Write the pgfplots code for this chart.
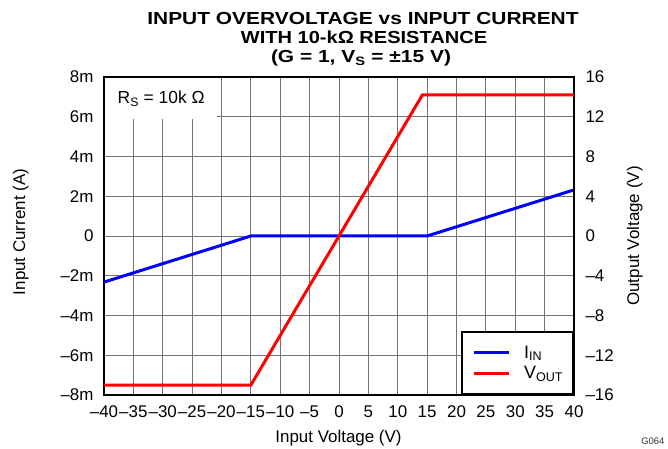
\documentclass[border=0pt]{standalone}
\usepackage{fontspec}
\setmainfont{Liberation Sans}
\usepackage{graphicx}
\usepackage{pgfplots}
\pgfplotsset{compat=1.18}

\pgfplotsset{
  common/.style={
    at={(104bp,54bp)}, anchor=south west,
    scale only axis, width=470bp, height=318bp,
    xmin=-40, xmax=40,
    major tick length=0pt,
    axis line style={line width=2bp},
    tick label style={font=\fontsize{17}{19}\selectfont},
  },
}

\begin{document}
\begin{tikzpicture}[x=1bp,y=1bp]
\useasboundingbox (0,0) rectangle (668,449);

% left axis: input current (mA)
\begin{axis}[common,
    ymin=-8, ymax=8,
    xtick={-40,-35,...,40},
    xticklabels={–40,–35,–30,–25,–20,–15,–10,–5,0,5,10,15,20,25,30,35,40},
    ytick={-8,-6,...,8},
    yticklabels={–8m,–6m,–4m,–2m,0,2m,4m,6m,8m},
    grid=major,
    grid style={black!55, line width=0.9bp},
    yticklabel style={xshift=-7bp},
    xticklabel style={yshift=-7bp},
  ]
  \addplot[blue, line width=3bp] coordinates {
    (-40,-2.32) (-15,0) (15,0) (40,2.32)
  };
  \node[fill=white, inner sep=0pt, anchor=north west,
        minimum width=112bp, minimum height=41bp,
        font=\fontsize{17.5}{20}\selectfont]
    at (axis cs:-40,8) [xshift=1bp, yshift=-1bp] {R\textsubscript{S} = 10k Ω};
\end{axis}

% right axis: output voltage (V)
\begin{axis}[common,
    ymin=-16, ymax=16,
    axis x line=none,
    axis y line*=right,
    ytick={-16,-12,...,16},
    yticklabels={–16,–12,–8,–4,0,4,8,12,16},
    yticklabel style={xshift=8bp},
    legend cell align=left,
    legend style={at={(1,0)}, anchor=south east, draw=black, line width=2bp,
      fill=white, font=\fontsize{18}{20}\selectfont,
      inner xsep=10bp, inner ysep=10.4bp, row sep=0bp, column sep=14bp,
      nodes={inner sep=0pt, minimum height=20.6bp}},
    legend image code/.code={\draw[#1] (0bp,0bp) -- (35bp,0bp);},
  ]
  \addlegendimage{blue, line width=3bp}
  \addlegendentry{I\textsubscript{IN}}
  \addplot[red, line width=3bp] coordinates {
    (-40,-15) (-15,-15) (14.2,14.2) (40,14.2)
  };
  \addlegendentry{V\textsubscript{OUT}}
\end{axis}

% titles and labels
\begin{scope}[font=\fontsize{17.5}{20}\selectfont\bfseries]
  \node[anchor=base] at (363,424.5) {\scalebox{1.2}[1]{INPUT OVERVOLTAGE vs INPUT CURRENT}};
  \node[anchor=base] at (364,405) {\scalebox{1.15}[1]{WITH 10-kΩ RESISTANCE}};
  \node[anchor=base] at (361,386) {\scalebox{1.2}[1]{(G = 1, V\textsubscript{S} = ±15 V)}};
\end{scope}
\node[anchor=base, font=\fontsize{17}{19}\selectfont] at (338.5,6) {Input Voltage (V)};
\node[anchor=base, rotate=90, font=\fontsize{17}{19}\selectfont] at (25.2,217) {Input Current (A)};
\node[anchor=base, rotate=90, font=\fontsize{17}{19}\selectfont] at (639,213) {Output Voltage (V)};
\node[anchor=east, font=\fontsize{9.5}{11}\selectfont, black!80] at (668,8) {G064};
\end{tikzpicture}
\end{document}
